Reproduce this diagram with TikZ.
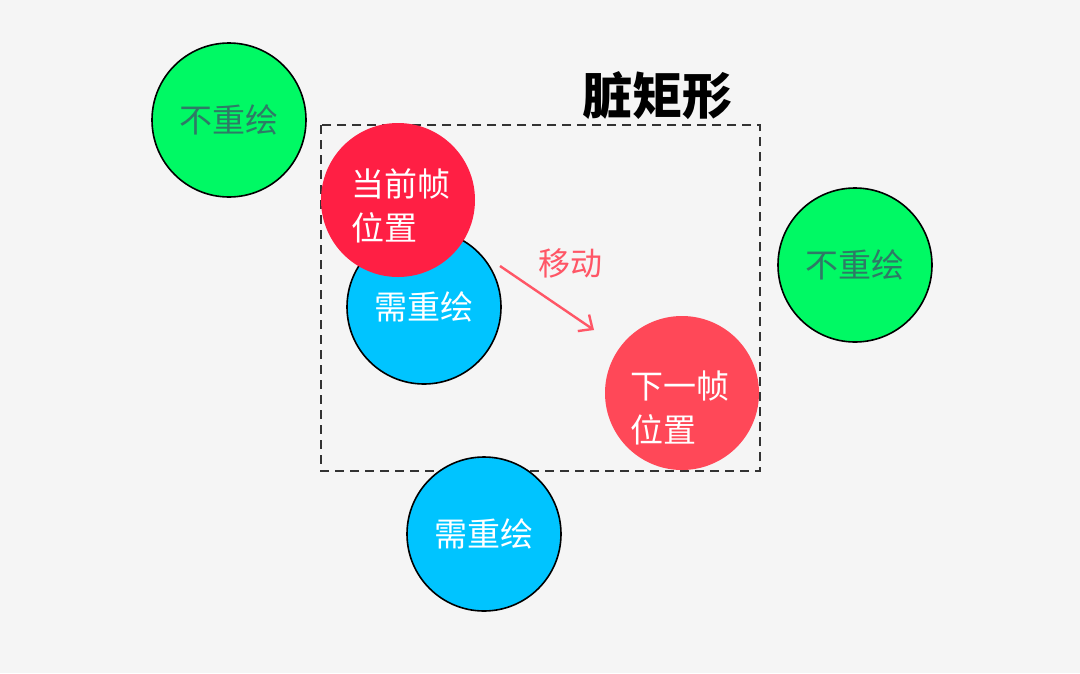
\documentclass[tikz,border=0pt]{standalone}
\usepackage{fontspec}
\newfontfamily\cjk{Noto Sans CJK SC}
\usetikzlibrary{arrows.meta}
\definecolor{bg}{HTML}{F5F5F5}
\definecolor{gfill}{HTML}{00F964}
\definecolor{gtext}{HTML}{2E7A66}
\definecolor{bfill}{HTML}{00C4FF}
\definecolor{rcur}{HTML}{FF1F44}
\definecolor{rnext}{HTML}{FF4858}
\definecolor{arr}{HTML}{FF5666}
\tikzset{
  ball/.style={circle, minimum size=154pt, inner sep=0pt, font=\cjk\fontsize{33}{44}\selectfont},
  green/.style={ball, fill=gfill, draw=black, line width=1.6pt, text=gtext},
  blue/.style={ball, fill=bfill, draw=black, line width=1.6pt, text=white},
  redcur/.style={ball, fill=rcur},
  rednext/.style={ball, fill=rnext},
  redtext/.style={inner sep=0pt, text=white, align=left, font=\cjk\fontsize{33}{44}\selectfont},
}
\begin{document}
\begin{tikzpicture}[x=1pt,y=-1pt]
\fill[bg] (0,0) rectangle (1080,673);
\useasboundingbox (0,0) rectangle (1080,673);
\draw[black!80, line width=1.6pt, dash pattern=on 9pt off 6pt] (321,125) rectangle (760,471);
\node[anchor=center, font=\cjk\bfseries\fontsize{50}{55}\selectfont] (title) at (657,96) {脏矩形};
\node[green] (g1) at (229,120) {不重绘};
\node[green] (g2) at (855,265) {不重绘};
\node[blue] (b1) at (424,307) {需重绘};
\node[blue] (b2) at (484,534) {需重绘};
\node[redcur] (r1) at (398,200) {};
\node[redtext] (r1t) at (401,206) {当前帧\\位置\hfill};
\node[rednext] (r2) at (682,393) {};
\node[redtext] (r2t) at (680,408) {下一帧\\位置\hfill};
\coordinate (a1) at (500,266);
\coordinate (a2) at (594,330);
\draw[arr, line width=2.4pt, -{Straight Barb[length=11pt,width=20pt]}] (a1) -- (a2);
\node[text=arr, font=\cjk\fontsize{32}{36}\selectfont] (mv) at (570,263) {移动};
\end{tikzpicture}
\end{document}
